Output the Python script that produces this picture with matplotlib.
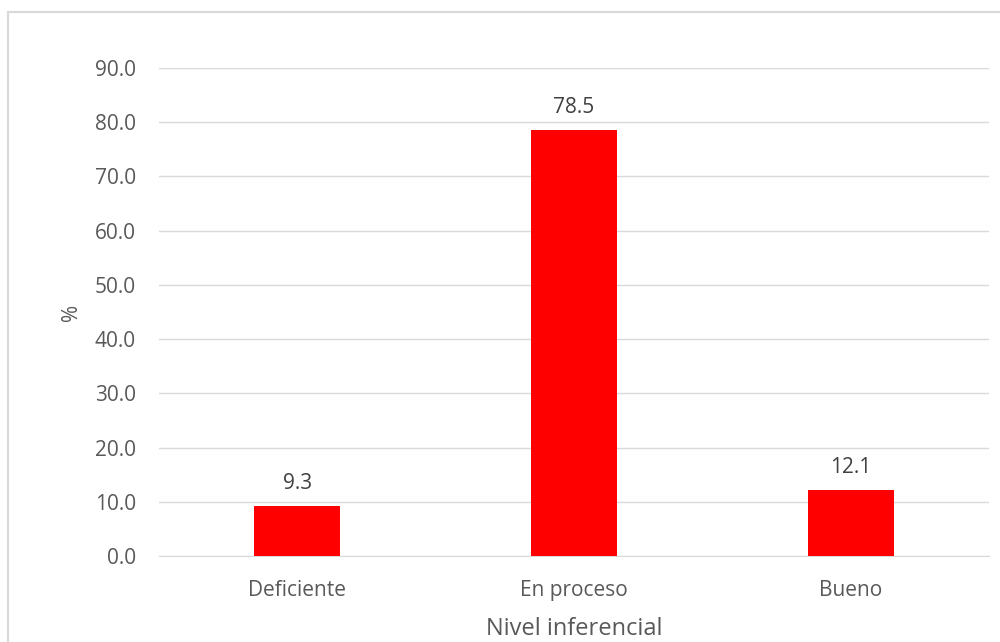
import matplotlib.pyplot as plt
from matplotlib.patches import Rectangle

categorias = ['Deficiente', 'En proceso', 'Bueno']
porcentajes = [9.3, 78.5, 12.1]
yticks = [0, 10, 20, 30, 40, 50, 60, 70, 80, 90]

plt.rcParams['font.family'] = ['Open Sans', 'DejaVu Sans']
gris = '#595959'

fig = plt.figure(figsize=(10, 6.42), dpi=100)
ax = fig.add_axes([0.159, 0.134, 0.83, 0.76])

# marco exterior del grafico
fig.patches.append(Rectangle((0.008, -0.05), 1.05, 1.031, transform=fig.transFigure,
                             fill=False, edgecolor='#d9d9d9', lw=1.5))

x = range(len(categorias))
bars = ax.bar(x, porcentajes, width=0.31, color='#ff0000', zorder=3)
for b, v in zip(bars, porcentajes):
    ax.text(b.get_x() + b.get_width() / 2, v + 2.2, f'{v:.1f}', ha='center', va='bottom',
            fontsize=15, color='#404040')

ax.set_xlim(-0.5, 2.5)
ax.set_ylim(0, 90)
ax.set_yticks(yticks)
ax.set_yticklabels([f'{t:.1f}' for t in yticks])
ax.set_xticks(list(x))
ax.set_xticklabels(categorias)
ax.tick_params(length=0, labelsize=15, colors=gris, pad=17)
ax.tick_params(axis='y', pad=16.5)
ax.grid(axis='y', color='#d9d9d9', lw=1, zorder=0)
for s in ['top', 'right', 'left']:
    ax.spines[s].set_visible(False)
ax.spines['bottom'].set_color('#d9d9d9')
ax.set_ylabel('%', fontsize=15, color=gris, labelpad=9)
ax.set_xlabel('Nivel inferencial', fontsize=17, color=gris, labelpad=12)

fig.savefig('out.png')
